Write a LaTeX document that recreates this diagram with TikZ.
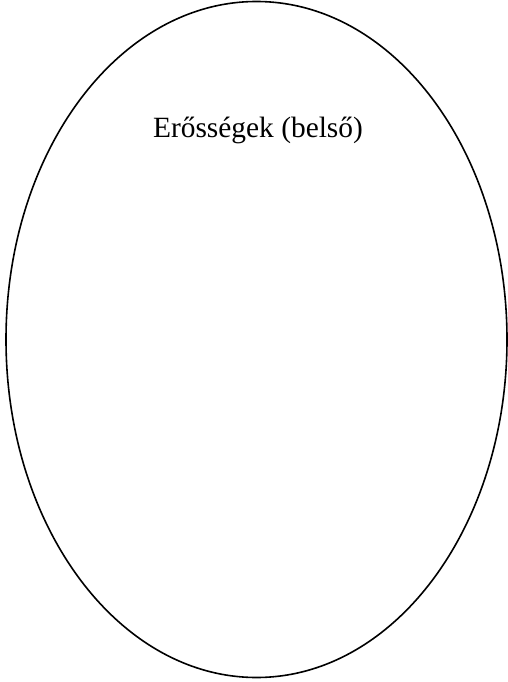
\documentclass[tikz,border=0pt]{standalone}
\usepackage{fontspec}
\setmainfont{Liberation Serif}
\begin{document}
\begin{tikzpicture}[x=1pt,y=-1pt,
  oval/.style={draw=black,line width=1.6pt},
  lbl/.style={font=\fontsize{29.4}{34}\selectfont,anchor=base,inner sep=0pt}]
\useasboundingbox (0,0) rectangle (508,682);
\draw[oval] (256.5,339.5) ellipse [x radius=250.5, y radius=338];
\node[lbl] (t) at (258,137.5) {Erősségek (belső)};
\end{tikzpicture}
\end{document}
